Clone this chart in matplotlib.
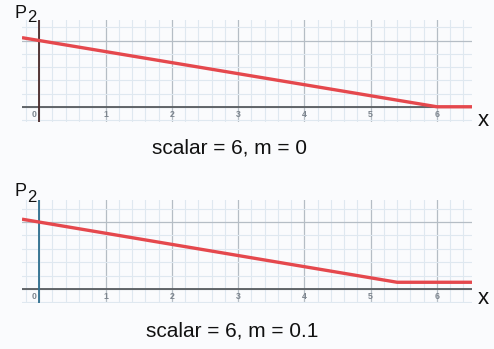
import numpy as np
import matplotlib
matplotlib.use("Agg")
import matplotlib.pyplot as plt
from matplotlib.ticker import MultipleLocator

plt.rcParams['font.family'] = ['Liberation Sans', 'DejaVu Sans']

# Data
x_pts = [-0.26, 6.0, 6.53]
p2_top = [1.0433, 0.0, 0.0]
x_pts_b = [-0.26, 5.4, 6.53]
p2_bot = [1.0433, 0.1, 0.1]
tick_vals = [0, 1, 2, 3, 4, 5, 6]
captions = ["scalar = 6, m = 0", "scalar = 6, m = 0.1"]

W, H = 494, 349
fig = plt.figure(figsize=(W / 100, H / 100), dpi=100)
fig.patch.set_facecolor('#fafbfd')

def px_axes(left, top, right, bottom):
    return fig.add_axes([left / W, 1 - bottom / H, (right - left) / W, (bottom - top) / H])

panels = [
    dict(box=(22, 20, 472, 122), ylim=(-0.23, 1.31), x=x_pts, y=p2_top,
         vcol='#4a2a2a', cap=captions[0], capx=229, capy=148, p2y=13, xy=120),
    dict(box=(22, 200, 472, 303), ylim=(-0.21, 1.33), x=x_pts_b, y=p2_bot,
         vcol='#2f6f8f', cap=captions[1], capx=232, capy=331, p2y=192, xy=298),
]

for p in panels:
    ax = px_axes(*p['box'])
    ax.set_facecolor('none')
    ax.set_xlim(-0.26, 6.53)
    ax.set_ylim(*p['ylim'])
    ax.xaxis.set_major_locator(MultipleLocator(1))
    ax.xaxis.set_minor_locator(MultipleLocator(0.2))
    ax.yaxis.set_major_locator(MultipleLocator(1))
    ax.yaxis.set_minor_locator(MultipleLocator(0.2))
    ax.grid(which='minor', color='#dfe8f0', lw=0.8)
    ax.grid(which='major', color='#b5bdc5', lw=0.9)
    ax.tick_params(which='both', length=0, labelbottom=False, labelleft=False)
    for s in ax.spines.values():
        s.set_visible(False)
    ax.set_axisbelow(True)
    ax.axhline(0, color='#585c60', lw=1.3, zorder=2)
    ax.axvline(0, color=p['vcol'], lw=1.3, zorder=2)
    ax.plot(p['x'], p['y'], color='#e5484d', lw=2.4, zorder=3, solid_capstyle='butt')
    for t in tick_vals:
        xo = t - 0.08 if t == 0 else t
        ax.text(xo, -0.12, str(t), ha='center', va='center', fontsize=6.3,
                color='#7d858e', fontweight='bold')
    fig.text(p['capx'] / W, 1 - p['capy'] / H, p['cap'], ha='center', va='center',
             fontsize=15, color='#111111')
    fig.text(15 / W, 1 - p['p2y'] / H, 'P', ha='left', va='center', fontsize=13, color='#111111')
    fig.text(27 / W, 1 - (p['p2y'] + 5) / H, '2', ha='left', va='center', fontsize=12, color='#111111')
    fig.text(483 / W, 1 - p['xy'] / H, 'x', ha='center', va='center', fontsize=16, color='#111111')

fig.savefig('out.png', dpi=100, facecolor=fig.get_facecolor())
